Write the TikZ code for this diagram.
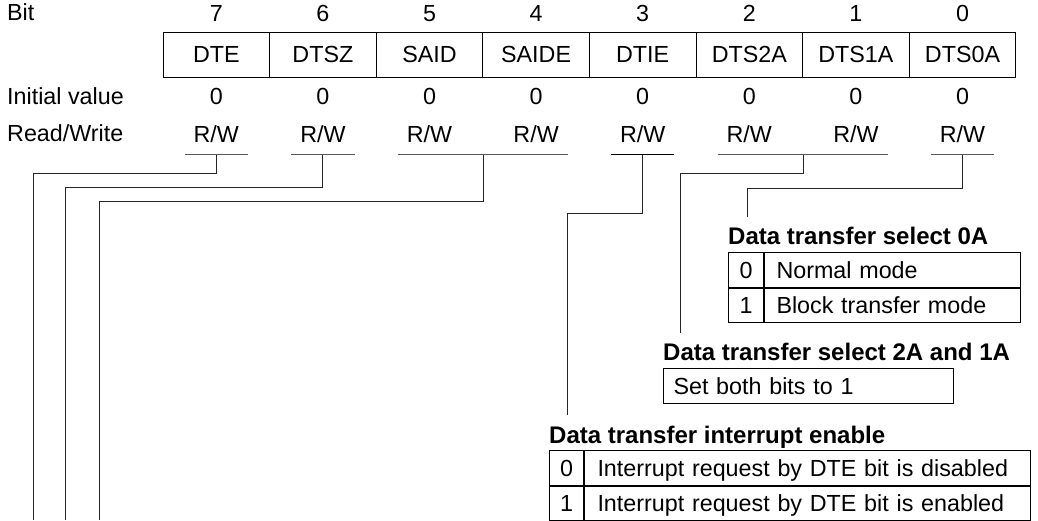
\documentclass[tikz,border=0pt]{standalone}
\usepackage{fontspec}
\setmainfont{Liberation Sans}
\usetikzlibrary{positioning}

\begin{document}
\begin{tikzpicture}[x=1pt, y=-1pt,
  every node/.style={font=\fontsize{23.3}{28}\selectfont, inner sep=0pt, text height=16.7pt, text depth=0pt},
  regbit/.style={draw, line width=1pt, minimum width=106.6pt, minimum height=45pt},
  rwbox/.style={minimum width=63pt, inner ysep=12pt},
  title/.style={anchor=west, font=\fontsize{24}{28}\selectfont\bfseries},
  numcell/.style={draw, line width=1pt, minimum width=35pt, minimum height=34.5pt},
  desccell/.style={draw, line width=1pt, minimum height=34.5pt, inner xsep=#1, align=left},
  uline/.style={line width=1pt, black!65},
  link/.style={line width=1pt, black!85}
]
\useasboundingbox (0,0) rectangle (1038,520);
% row labels
\node[anchor=west] (lbit) at (7,12.5) {Bit};
\node[anchor=west] (linit) at (7,96) {Initial value};
\node[anchor=west] (lrw) at (7,133) {Read/Write};
% register bits
\foreach \b/\name [count=\k from 0] in {7/DTE,6/DTSZ,5/SAID,4/SAIDE,3/DTIE,2/DTS2A,1/DTS1A,0/DTS0A} {
  \node[regbit] (reg\b) at (216.3+106.6*\k,54.5) {\name};
  \node[above=10pt of reg\b] (bit\b) {\b};
  \node[below=10pt of reg\b] (init\b) {0};
  \node[rwbox, below=9pt of init\b] (rw\b) {R/W};
}
\foreach \b in {7,6,0}
  \draw[uline] (rw\b.south west) -- (rw\b.south east);
\draw[line width=1.5pt] (rw3.south west) -- (rw3.south east);
\draw[uline] (rw5.south west) -- (rw4.south east);
\draw[uline] (rw2.south west) -- (rw1.south east);
% data transfer select 0A
\node[title] (dts0a) at (728,236.5) {Data transfer select 0A};
\node[numcell, below=7pt of dts0a.south west, anchor=north west] (sel0) {0};
\node[numcell, below=0pt of sel0] (sel1) {1};
\node[desccell=12pt, text width=232pt, right=0pt of sel0] (sel0d) {\mbox{Normal mode}};
\node[desccell=12pt, text width=232pt, right=0pt of sel1] (sel1d) {\mbox{Block transfer mode}};
% data transfer select 2A and 1A
\node[title] (dts21) at (663,352.5) {Data transfer select 2A and 1A};
\node[desccell=10pt, text width=270pt, below=7pt of dts21.south west, anchor=north west] (both) {\mbox{Set both bits to 1}};
% data transfer interrupt enable
\node[title] (dti) at (549,435.5) {Data transfer interrupt enable};
\node[numcell, minimum width=34pt, below=6pt of dti.south west, anchor=north west] (ie0) {0};
\node[numcell, minimum width=34pt, below=0pt of ie0] (ie1) {1};
\node[desccell=13pt, text width=420pt, right=0pt of ie0] (ie0d) {\mbox{Interrupt request by DTE bit is disabled}};
\node[desccell=13pt, text width=420pt, right=0pt of ie1] (ie1d) {\mbox{Interrupt request by DTE bit is enabled}};
% connectors
\coordinate (end7) at (33,520);
\coordinate (end6) at (65,520);
\coordinate (end54) at (99,520);
\draw[link] (rw7.south) -- ++(0,19) -| (end7);
\draw[link] (rw6.south) -- ++(0,33) -| (end6);
\draw[link] (reg5.east |- rw5.south) -- ++(0,47) -| (end54);
\draw[link] (rw3.south) -- ++(0,59) -| ([xshift=18pt,yshift=12pt]dti.north west);
\draw[link] (reg2.east |- rw2.south) -- ++(0,19) -| ([xshift=17pt,yshift=11pt]dts21.north west);
\draw[link] (rw0.south) -- ++(0,34) -| ([xshift=19pt,yshift=11pt]dts0a.north west);
\end{tikzpicture}
\end{document}
